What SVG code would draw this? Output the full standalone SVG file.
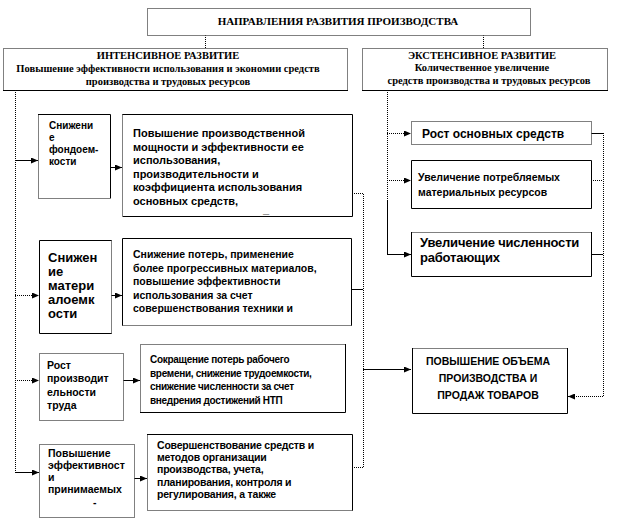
<svg xmlns="http://www.w3.org/2000/svg" width="618" height="521" viewBox="0 0 618 521">
<style>
.f{fill:#fff;stroke:none}
.s{fill:none;stroke:#000;stroke-width:1}
.d{fill:none;stroke:#000;stroke-width:1;stroke-dasharray:1 1}
.h{font-family:"Liberation Serif","Times New Roman",serif;font-weight:bold;fill:#000;text-anchor:middle}
.t{font-family:"Liberation Sans",Arial,sans-serif;font-weight:bold;fill:#000}
.a{marker-end:url(#arr)}
</style>
<defs>
<marker id="arr" markerUnits="userSpaceOnUse" markerWidth="7" markerHeight="6" refX="7" refY="3" orient="auto">
<path d="M0,0 L7,3 L0,6 z" fill="#000"/>
</marker>
</defs>
<rect width="618" height="521" fill="#fff"/>

<g id="connectors">
<path class="d" d="M205.5 35 V48"/>
<path class="d" d="M483.5 35 V48"/>
<path class="d" d="M15.5 90 V472.5"/>
<path class="s a" d="M15 472.5 H39"/>
<path class="s a" d="M15 160.5 H38"/>
<path class="d a" d="M15 295.5 H39"/>
<path class="d a" d="M15 380.5 H39"/>
<path class="s a" d="M110 167.5 H122"/>
<path class="s a" d="M111 295.5 H122"/>
<path class="s a" d="M123 380.5 H140"/>
<path class="s a" d="M134 478.5 H147"/>
<path class="d" d="M352 193.5 H363.5 V467.5 H352"/>
<path class="s" d="M351 289.5 H363"/>
<path class="s a" d="M363 369.5 H411"/>
<path class="d" d="M387.5 90 V200"/>
<path class="s" d="M387.5 200 V254.5"/>
<path class="s a" d="M387 254.5 H411"/>
<path class="d a" d="M387 133.5 H411"/>
<path class="d a" d="M387 180.5 H411"/>
<path class="s" d="M591 133.5 H603"/>
<path class="d" d="M591 180.5 H603"/>
<path class="s" d="M591 254.5 H603"/>
<path class="d" d="M603.5 133 V396.5"/>
<path class="d a" d="M603 396.5 H568"/>
</g>

<g id="title">
<rect class="f" x="147.5" y="8.5" width="383" height="27"/>
<path class="d" d="M147.5 8.5 H530.5 V35.5 H147.5 Z"/>
<text class="h" x="338" y="25" font-size="11">НАПРАВЛЕНИЯ РАЗВИТИЯ ПРОИЗВОДСТВА</text>
</g>

<g id="intensive">
<rect class="f" x="3.5" y="48.5" width="344" height="42"/>
<path class="d" d="M3.5 90.5 V48.5 H347.5 V90.5"/>
<path class="s" d="M3 90.5 H348"/>
<text class="h" x="168" y="59" font-size="10.5">ИНТЕНСИВНОЕ РАЗВИТИЕ</text>
<text class="h" x="168" y="72" font-size="10.5">Повышение эффективности использования и экономии средств</text>
<text class="h" x="168" y="85" font-size="10.5">производства и трудовых ресурсов</text>
</g>

<g id="extensive">
<rect class="f" x="362.5" y="48.5" width="245" height="42"/>
<path class="d" d="M362.5 90.5 V48.5 H607.5 V90.5"/>
<path class="s" d="M362 90.5 H608"/>
<text class="h" x="482" y="59" font-size="10.5">ЭКСТЕНСИВНОЕ РАЗВИТИЕ</text>
<text class="h" x="482" y="71" font-size="10.5">Количественное увеличение</text>
<text class="h" x="489" y="84" font-size="10.5">средств производства и трудовых ресурсов</text>
</g>

<g id="box1">
<rect class="f" x="38.5" y="114.5" width="72" height="84"/>
<path class="d" d="M38.5 114.5 V198.5 H110.5"/>
<path class="s" d="M38 114.5 H110.5 V198.5"/>
<text class="t" font-size="10"><tspan x="49" y="129">Снижени</tspan><tspan x="49" y="141">е</tspan><tspan x="49" y="153">фондоем-</tspan><tspan x="49" y="165">кости</tspan></text>
</g>

<g id="box1b">
<rect class="f" x="122.5" y="114.5" width="230" height="102"/>
<path class="s" d="M122.5 216.5 H352.5 V114.5 H122.5"/>
<path class="d" d="M122.5 114.5 V216.5"/>
<text class="t" font-size="11"><tspan x="133" y="137">Повышение  производственной</tspan><tspan x="133" y="150.5">мощности и эффективности  ее</tspan><tspan x="133" y="164">использования,</tspan><tspan x="133" y="177.5">производительности  и</tspan><tspan x="133" y="191">коэффициента  использования</tspan><tspan x="133" y="204.5">основных средств,</tspan><tspan x="263" y="213">_</tspan></text>
</g>

<g id="box2">
<rect class="f" x="39.5" y="240.5" width="72" height="93"/>
<path class="s" d="M111.5 333.5 H39.5 V240.5 H111.5"/>
<path class="d" d="M111.5 240.5 V333.5"/>
<text class="t" font-size="13"><tspan x="48" y="262">Снижен</tspan><tspan x="48" y="276">ие</tspan><tspan x="48" y="290">матери</tspan><tspan x="48" y="304">алоемк</tspan><tspan x="48" y="317.5">ости</tspan></text>
</g>

<g id="box2b">
<rect class="f" x="122.5" y="238.5" width="229" height="87"/>
<path class="s" d="M122.5 325.5 V238.5 H351.5 V325.5"/>
<path class="d" d="M122.5 325.5 H351.5"/>
<text class="t" font-size="10.5"><tspan x="133" y="258">Снижение  потерь,  применение</tspan><tspan x="133" y="271.5">более прогрессивных материалов,</tspan><tspan x="133" y="285">повышение  эффективности</tspan><tspan x="133" y="298.5">использования за счет</tspan><tspan x="133" y="312">совершенствования  техники и</tspan></text>
</g>

<g id="box3">
<rect class="f" x="39.5" y="353.5" width="84" height="67"/>
<path class="d" d="M39.5 353.5 H123.5 V420.5 H39.5 Z"/>
<text class="t" font-size="10.5"><tspan x="47" y="369">Рост</tspan><tspan x="47" y="382">производит</tspan><tspan x="47" y="396">ельности</tspan><tspan x="47" y="409">труда</tspan></text>
</g>

<g id="box3b">
<rect class="f" x="140.5" y="344.5" width="205" height="68"/>
<path class="d" d="M140.5 412.5 V344.5 H345.5"/>
<path class="s" d="M345.5 344 V412.5 H140"/>
<text class="t" font-size="10" letter-spacing="-0.3"><tspan x="150" y="363">Сокращение потерь рабочего</tspan><tspan x="150" y="376.5">времени, снижение трудоемкости,</tspan><tspan x="150" y="390">снижение численности за счет</tspan><tspan x="150" y="403.5">внедрения достижений НТП</tspan></text>
</g>

<g id="box4">
<rect class="f" x="39.5" y="444.5" width="95" height="73"/>
<path class="d" d="M39.5 444.5 H134.5 V517.5 H39.5 Z"/>
<text class="t" font-size="10.5"><tspan x="48" y="457">Повышение</tspan><tspan x="48" y="469">эффективност</tspan><tspan x="48" y="481">и</tspan><tspan x="48" y="492.5">принимаемых</tspan><tspan x="93" y="506">-</tspan></text>
</g>

<g id="box4b">
<rect class="f" x="147.5" y="434.5" width="205" height="76"/>
<path class="s" d="M147 434.5 H352.5 V510.5"/>
<path class="d" d="M147.5 434.5 V510.5 H352.5"/>
<text class="t" font-size="10.5" letter-spacing="-0.2"><tspan x="157" y="449">Совершенствование средств и</tspan><tspan x="157" y="461">методов организации</tspan><tspan x="157" y="473">производства, учета,</tspan><tspan x="157" y="486">планирования, контроля и</tspan><tspan x="157" y="498">регулирования, а также</tspan></text>
</g>

<g id="r1">
<rect class="f" x="411.5" y="121.5" width="180" height="23"/>
<path class="d" d="M411.5 121.5 H591.5 V144.5 H411.5 Z"/>
<text class="t" font-size="12" x="422" y="137.5">Рост основных средств</text>
</g>

<g id="r2">
<rect class="f" x="411.5" y="160.5" width="180" height="48"/>
<path class="s" d="M411.5 160.5 H591.5 V208.5 H411.5 Z"/>
<text class="t" font-size="10.5"><tspan x="418" y="181">Увеличение  потребляемых</tspan><tspan x="418" y="196">материальных ресурсов</tspan></text>
</g>

<g id="r3">
<rect class="f" x="411.5" y="232.5" width="180" height="44"/>
<path class="d" d="M411.5 232.5 H591.5"/>
<path class="s" d="M411.5 232 V276.5 H591.5 V232"/>
<text class="t" font-size="13" letter-spacing="-0.2"><tspan x="420" y="247">Увеличение численности</tspan><tspan x="420" y="262">работающих</tspan></text>
</g>

<g id="result">
<rect class="f" x="412.5" y="348.5" width="155" height="65"/>
<path class="d" d="M412.5 348.5 H567.5"/>
<path class="s" d="M412.5 348 V413.5 H567.5 V348"/>
<text class="t" font-size="10.5" text-anchor="middle"><tspan x="488" y="365">ПОВЫШЕНИЕ ОБЪЕМА</tspan><tspan x="488" y="382">ПРОИЗВОДСТВА И</tspan><tspan x="488" y="399">ПРОДАЖ ТОВАРОВ</tspan></text>
</g>
</svg>
